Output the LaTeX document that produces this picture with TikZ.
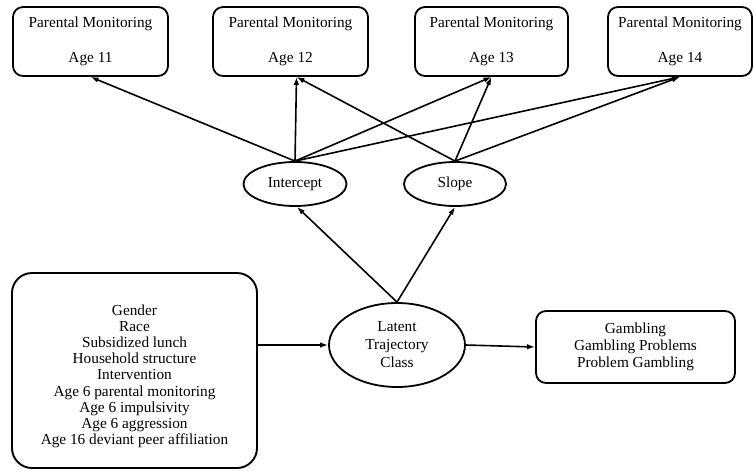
\documentclass[tikz,border=0pt]{standalone}
\usepackage{fontspec}
\setmainfont{Liberation Serif}
\usetikzlibrary{shapes.geometric,arrows.meta}

\begin{document}
\begin{tikzpicture}[x=1pt, y=-1pt,
    pmbox/.style={draw, line width=1.8pt, rounded corners=10pt, minimum height=69pt, inner sep=0pt, align=center, font=\fontsize{15.3}{17.5}\selectfont},
    bigbox/.style={draw, line width=1.9pt, rounded corners=20pt, inner sep=0pt, align=center, font=\fontsize{15.3}{16.2}\selectfont},
    outbox/.style={draw, line width=1.8pt, rounded corners=10pt, inner sep=0pt, align=center, font=\fontsize{15.3}{17}\selectfont},
    latent/.style={draw, ellipse, line width=1.8pt, inner sep=0pt, align=center, font=\fontsize{15.3}{18}\selectfont},
    path/.style={-{Latex[length=8pt,width=5.5pt]}, line width=1.6pt}]
    \useasboundingbox (0,0) rectangle (754,472);
    % Parental monitoring, ages 11 to 14
    \node[pmbox, minimum width=155pt] (pm11) at (90.5,41.5) {Parental Monitoring\\[17.5pt]Age 11};
    \node[pmbox, minimum width=155pt] (pm12) at (290.5,41.5) {Parental Monitoring\\[17.5pt]Age 12};
    \node[pmbox, minimum width=153pt] (pm13) at (491.5,41.5) {Parental Monitoring\\[17.5pt]Age 13};
    \node[pmbox, minimum width=144pt] (pm14) at (680,41.5) {Parental Monitoring\\[17.5pt]Age 14};
    % Growth factors
    \node[latent, minimum width=103pt, minimum height=44pt] (intercept) at (295,184) {Intercept};
    \node[latent, minimum width=102pt, minimum height=44pt] (slope) at (455,184) {Slope};
    % Latent class
    \node[latent, minimum width=136pt, minimum height=84pt] (class) at (397,345) {Latent\\Trajectory\\Class};
    % Covariates
    \node[bigbox, minimum width=245pt, minimum height=195pt] (covariates) at (134.5,370.5) {\rule{0pt}{22pt}Gender\\Race\\Subsidized lunch\\Household structure\\Intervention\\Age 6 parental monitoring\\Age 6 impulsivity\\Age 6 aggression\\Age 16 deviant peer affiliation};
    % Outcomes
    \node[outbox, minimum width=199pt, minimum height=72pt] (outcomes) at (635.5,347) {Gambling\\Gambling Problems\\Problem Gambling};
    % Intercept loadings
    \draw[path] (intercept.north) -- (pm11.south);
    \draw[path] (intercept.north) -- ([xshift=6pt]pm12.south);
    \draw[path] (intercept.north) -- (pm13.south);
    \draw[path] (intercept.north) -- (pm14.south);
    % Slope loadings
    \draw[path] (slope.north) -- ([xshift=6pt]pm12.south);
    \draw[path] (slope.north) -- (pm13.south);
    \draw[path] (slope.north) -- (pm14.south);
    % Class to growth factors
    \draw[path] (class.north) -- ([xshift=2pt]intercept.south);
    \draw[path] (class.north) -- (slope.south);
    % Covariates and outcomes
    \draw[path] (covariates.east |- class.west) -- (class.west);
    \draw[path] (class.east) -- (outcomes.west);
\end{tikzpicture}
\end{document}
